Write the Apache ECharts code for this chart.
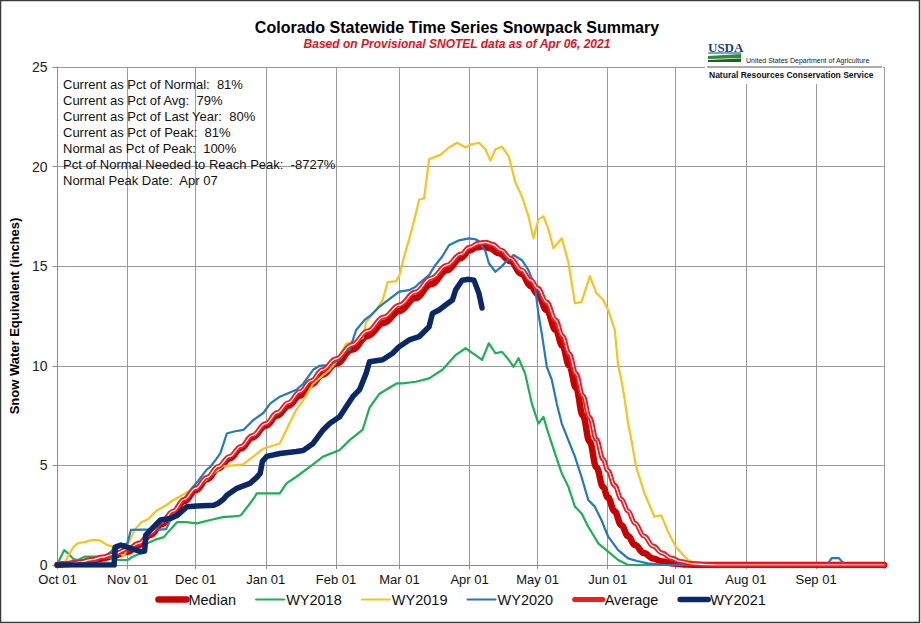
<!DOCTYPE html>
<html>
<head>
<meta charset="utf-8">
<script src="https://cdn.jsdelivr.net/npm/echarts@6/dist/echarts.min.js"></script>
<style>
html,body{margin:0;padding:0;background:#fff;}
#chart{width:921px;height:624px;}
</style>
</head>
<body>
<div id="chart"></div>
<script>
// Day index 0 = Oct 01 (water year)
const monthTicks = [0, 31, 61, 92, 123, 151, 182, 212, 243, 273, 304, 335, 365];
const monthLabels = ['Oct 01','Nov 01','Dec 01','Jan 01','Feb 01','Mar 01','Apr 01','May 01','Jun 01','Jul 01','Aug 01','Sep 01'];

const titleText = 'Colorado Statewide Time Series Snowpack Summary';
const subtitleText = 'Based on Provisional SNOTEL data as of Apr 06, 2021';
const statsLines = [
  'Current as Pct of Normal:  81%',
  'Current as Pct of Avg:  79%',
  'Current as Pct of Last Year:  80%',
  'Current as Pct of Peak:  81%',
  'Normal as Pct of Peak:  100%',
  'Pct of Normal Needed to Reach Peak:  -8727%',
  'Normal Peak Date:  Apr 07'
];

const median = [[0,0],[5,0.05],[10,0.12],[15,0.22],[20,0.33],[25,0.47],[31,0.67],[36,1.0],[41,1.5],[46,2.05],[51,2.6],[56,3.2],[61,3.75],[66,4.3],[71,4.85],[76,5.35],[81,5.85],[86,6.4],[92,7.0],[97,7.5],[102,8.0],[107,8.5],[112,9.05],[117,9.55],[123,10.1],[130,10.8],[137,11.5],[144,12.15],[151,12.75],[158,13.4],[165,14.1],[172,14.8],[178,15.4],[182,15.8],[185,15.95],[188,16.0],[191,15.9],[195,15.65],[200,15.25],[205,14.6],[209,14.0],[212,13.6],[216,12.8],[220,11.8],[223,11.0],[226,10.0],[229,8.9],[232,7.5],[235,6.2],[238,4.9],[241,3.9],[243,3.4],[246,2.7],[249,2.0],[252,1.45],[255,1.0],[259,0.6],[263,0.33],[267,0.17],[272,0.07],[278,0.02],[284,0],[365,0]];

const average = [[0,0],[5,0.07],[10,0.15],[15,0.27],[20,0.4],[25,0.55],[31,0.8],[36,1.1],[41,1.6],[46,2.15],[51,2.7],[56,3.3],[61,3.85],[66,4.4],[71,4.95],[76,5.45],[81,5.95],[86,6.5],[92,7.1],[97,7.65],[102,8.15],[107,8.7],[112,9.25],[117,9.8],[123,10.35],[130,11.05],[137,11.75],[144,12.45],[151,13.05],[158,13.7],[165,14.4],[172,15.05],[178,15.6],[182,15.95],[186,16.15],[189,16.2],[192,16.1],[196,15.8],[200,15.4],[205,14.8],[209,14.3],[212,13.9],[216,13.2],[220,12.3],[223,11.5],[226,10.6],[229,9.6],[232,8.5],[235,7.4],[238,6.3],[241,5.3],[243,4.75],[246,4.0],[249,3.3],[252,2.7],[255,2.1],[259,1.45],[263,0.95],[267,0.6],[271,0.35],[275,0.18],[280,0.07],[286,0.02],[292,0],[365,0]];

const wy2018 = [[0,0],[1,0.3],[3,0.75],[5,0.55],[7,0.3],[9,0.25],[12,0.42],[18,0.42],[25,0.35],[27,0.25],[31,0.25],[33,0.4],[36,0.55],[38,0.6],[39.7,1.09],[44,1.3],[47,1.4],[48.4,1.6],[52.8,2.15],[57,2.15],[61.6,2.09],[67.5,2.26],[73,2.4],[79.2,2.45],[81,2.5],[85.1,3.1],[87.3,3.45],[88,3.6],[98.2,3.6],[101.1,4.1],[105.5,4.43],[111.4,4.93],[117.3,5.44],[124.6,5.77],[129,6.27],[131.5,6.5],[134.8,6.8],[137.8,7.9],[142.2,8.6],[146.6,8.9],[150,9.12],[152.4,9.12],[158.2,9.2],[164.1,9.37],[170,9.8],[175.8,10.54],[180.2,10.88],[184.6,10.54],[187.5,10.3],[190.5,11.13],[193.4,10.63],[196.3,10.7],[199.3,10.3],[201.4,9.95],[203.6,10.38],[206.5,9.62],[209.5,8.1],[212.4,7.1],[214.6,7.44],[216.8,6.61],[219.7,5.6],[222.7,4.6],[225.6,3.93],[228.5,2.93],[231.4,2.6],[234.4,1.92],[238.8,1.09],[243.2,0.67],[247.6,0.25],[252,0],[365,0]];

const wy2019 = [[0,0],[3,0.1],[5,0.5],[7,0.9],[9,1.1],[12,1.15],[15,1.25],[18,1.25],[20,1.15],[22,1.0],[25,0.9],[27,0.7],[29,0.45],[30,0.6],[31,1.0],[32,1.25],[34,1.75],[37,2.15],[40,2.3],[44,2.75],[48,3.0],[51,3.25],[55,3.5],[58,3.7],[62,3.95],[66,4.3],[70,4.7],[73,4.95],[78,5.0],[82,5.05],[86,5.4],[91,5.85],[98.2,6.1],[102,7.0],[105.5,7.8],[108.5,8.28],[112.9,9.1],[117,9.5],[120.2,9.8],[123.1,10.2],[127.5,11.1],[130.4,11.2],[134.8,11.4],[136.3,12.2],[140.7,12.8],[143.6,13.3],[145.8,14.2],[149.5,14.25],[150.9,14.5],[153.1,15.5],[155.3,16.35],[157.5,17.3],[159.7,18.35],[161.9,18.4],[164.1,20.37],[167,20.5],[169.2,20.6],[172.9,20.96],[176.5,21.2],[180.2,20.96],[182.4,21.1],[186.1,21.2],[189,20.87],[191.2,20.3],[193.4,20.87],[196.3,21.0],[199.3,20.5],[202.2,19.2],[205.1,18.5],[208,17.5],[210.2,16.4],[212.4,17.35],[214.6,17.5],[216.8,16.85],[219,15.9],[222.7,16.4],[225.6,15.2],[228.5,13.15],[231.4,13.2],[235.1,14.5],[238,13.65],[241,13.3],[243.2,12.8],[246.1,11.8],[247.6,10.0],[249,9.3],[250.5,8.3],[252,7.1],[253.4,6.3],[255.6,4.9],[259.2,3.6],[263.6,2.42],[266.6,2.5],[269.5,1.7],[273,0.92],[278.3,0.25],[284,0],[365,0]];

const wy2020 = [[0,0],[10,0],[15,0.1],[20.6,0.42],[24,0.7],[25,0.92],[28,1.0],[30.9,1.09],[32.4,1.76],[38,1.78],[45,1.78],[48,1.8],[50,2.3],[51.4,2.6],[55,3.2],[59,3.8],[61.6,4.15],[66,4.8],[67.5,4.93],[70,5.3],[71.9,5.6],[74.8,6.6],[78,6.7],[82.1,6.78],[86.5,7.28],[90.9,7.63],[93.9,8.1],[98.2,8.45],[105.5,8.8],[108.5,9.1],[112.9,9.8],[115.8,10.0],[120.2,10.05],[124.6,10.3],[127.5,10.8],[129,10.8],[131.9,11.8],[135.6,12.3],[138,12.5],[142.2,12.97],[148,13.47],[150.9,13.72],[155.3,13.8],[158.2,13.97],[159.7,14.14],[164.1,14.55],[166.5,15.0],[170,15.5],[172.9,16.05],[177.3,16.3],[181.7,16.4],[184.6,16.35],[186.1,16.25],[189,15.75],[190.5,15.15],[193.4,14.72],[196.3,15.0],[197.8,15.2],[201.4,15.56],[205.1,15.3],[208,14.8],[210.9,13.97],[212.4,12.6],[213.9,11.6],[216.1,9.95],[218.3,9.3],[220.5,8.1],[222.7,7.1],[225.6,6.27],[228.5,5.44],[231.4,4.43],[234.4,3.26],[237.3,2.93],[240.2,2.26],[243.2,1.42],[247.6,0.75],[252,0.33],[256,0.2],[260.7,0.08],[266,0.02],[270,0],[340,0],[341,0.2],[342,0.35],[345,0.35],[347,0.1],[349,0],[365,0]];

const wy2021 = [[0,0],[25,0],[25.5,0.9],[28,1.0],[32.4,0.84],[36.8,0.67],[38.5,0.7],[39,1.5],[41.2,1.76],[45.5,2.26],[49.9,2.34],[53,2.5],[57.2,2.93],[61.6,2.96],[69,3.0],[71,3.1],[73.3,3.3],[74.8,3.5],[79.2,3.85],[85,4.1],[88,4.4],[89.5,4.6],[90.5,5.2],[92.4,5.45],[98.2,5.6],[105.5,5.7],[108.5,5.75],[112.9,6.1],[117.3,6.78],[120.2,7.1],[124.6,7.44],[127.5,7.95],[130.4,8.45],[133.4,8.8],[136.3,9.62],[137.8,10.2],[143.6,10.3],[148,10.63],[150.9,10.96],[155.3,11.3],[159.7,11.46],[164.1,11.96],[165.6,12.63],[168.5,12.8],[171.4,13.05],[174.4,13.3],[175.8,13.8],[178.7,14.3],[181.7,14.34],[183.9,14.3],[186.1,13.64],[187.5,12.9]];

const FONT = '"Liberation Sans", Arial, sans-serif';

function line(name, data, color, width, smooth) {
  return {
    name: name, type: 'line', data: data, symbol: 'none', showSymbol: false,
    smooth: smooth ? 0.4 : false, smoothMonotone: 'x',
    lineStyle: { color: color, width: width, cap: 'round', join: 'round' },
    itemStyle: { color: color },
    emphasis: { disabled: true }, animation: false
  };
}

const chart = echarts.init(document.getElementById('chart'), null, { renderer: 'svg' });

const g = [];
g.push({ type: 'text', x: 457, y: 27, style: { text: titleText, font: 'bold 16px ' + FONT, fill: '#000', textAlign: 'center', textVerticalAlign: 'middle' } });
g.push({ type: 'text', x: 457, y: 44, style: { text: subtitleText, font: 'italic bold 12px ' + FONT, fill: '#e0141e', textAlign: 'center', textVerticalAlign: 'middle' } });
statsLines.forEach(function (s, i) {
  g.push({ type: 'text', x: 63, y: 84 + i * 16, z: 10, style: { text: s, font: '13px ' + FONT, fill: '#111', textVerticalAlign: 'middle' } });
});
// USDA / NRCS logo block
g.push({ type: 'rect', shape: { x: 705, y: 66, width: 178, height: 18 }, style: { fill: '#fff' }, z: 20 });
g.push({ type: 'text', x: 708, y: 47, z: 21, style: { text: 'USDA', font: 'bold 13px "Liberation Serif", serif', fill: '#1b3f7a', textVerticalAlign: 'middle' } });
g.push({ type: 'line', shape: { x1: 708, y1: 53, x2: 741, y2: 53 }, style: { stroke: '#1b3f7a', lineWidth: 1 }, z: 21 });
g.push({ type: 'polygon', shape: { points: [[708,56],[741,54],[741,58],[708,59]] }, style: { fill: '#2e8b3a' }, z: 21 });
g.push({ type: 'polygon', shape: { points: [[708,60],[741,58.5],[741,62],[708,62]] }, style: { fill: '#1f5f2a' }, z: 21 });
g.push({ type: 'text', x: 746, y: 60, z: 21, style: { text: 'United States Department of Agriculture', font: '7px ' + FONT, fill: '#222', textVerticalAlign: 'middle' } });
g.push({ type: 'line', shape: { x1: 707, y1: 67, x2: 882, y2: 67 }, style: { stroke: '#555', lineWidth: 1 }, z: 21 });
g.push({ type: 'text', x: 709, y: 75, z: 21, style: { text: 'Natural Resources Conservation Service', font: 'bold 8.5px ' + FONT, fill: '#111', textVerticalAlign: 'middle' } });
// outer frame
g.push({ type: 'rect', shape: { x: 0.5, y: 0.5, width: 919, height: 622 }, style: { fill: 'none', stroke: '#3a3a3a', lineWidth: 1.5 }, z: 30, silent: true });

const option = {
  backgroundColor: '#fff',
  animation: false,
  grid: { left: 53, right: 37, top: 67, bottom: 59, containLabel: false },
  xAxis: {
    type: 'value', min: 0, max: 365,
    axisLine: { show: true, lineStyle: { color: '#8c8c8c', width: 1 } },
    axisTick: { show: true, customValues: monthTicks, length: 4, lineStyle: { color: '#8c8c8c' } },
    axisLabel: {
      customValues: monthTicks.slice(0, 12), color: '#111', fontSize: 13, fontFamily: FONT, margin: 8,
      formatter: function (v) { const i = monthTicks.indexOf(v); return i >= 0 && i < monthLabels.length ? monthLabels[i] : ''; }
    },
    splitLine: { show: true, lineStyle: { color: '#9a9a9a', width: 1 } }
  },
  yAxis: {
    type: 'value', min: 0, max: 25, interval: 5,
    name: 'Snow Water Equivalent (inches)', nameLocation: 'middle', nameGap: 36,
    nameTextStyle: { fontSize: 13, fontWeight: 'bold', color: '#000', fontFamily: FONT },
    axisLine: { show: true, lineStyle: { color: '#8c8c8c', width: 1 } },
    axisTick: { show: true, length: 5, lineStyle: { color: '#8c8c8c' } },
    axisLabel: { color: '#222', fontSize: 14, fontFamily: FONT, margin: 10 },
    splitLine: { show: true, lineStyle: { color: '#9a9a9a', width: 1 } }
  },
  legend: {
    data: ['Median', 'WY2018', 'WY2019', 'WY2020', 'Average', 'WY2021'],
    bottom: 12, left: 'center', itemWidth: 28, itemHeight: 12, itemGap: 19,
    itemStyle: { opacity: 0 },
    lineStyle: { width: 'inherit' },
    textStyle: { fontSize: 14.5, color: '#111', fontFamily: FONT, padding: [0, 0, 0, -3] }
  },
  graphic: g,
  series: [
    line('Median', median, '#c80000', 6.5, true),
    line('WY2018', wy2018, '#1eaf55', 2.2, false),
    line('WY2019', wy2019, '#f7c31f', 2.2, false),
    line('WY2020', wy2020, '#2378be', 2.2, false),
    line('Average', average, '#ee1c24', 5, true),
    Object.assign(line('AverageInner', average, '#ffffff', 1.2, true), { silent: true }),
    line('WY2021', wy2021, '#0a2768', 5.5, false)
  ]
};
chart.setOption(option);
</script>
</body>
</html>
